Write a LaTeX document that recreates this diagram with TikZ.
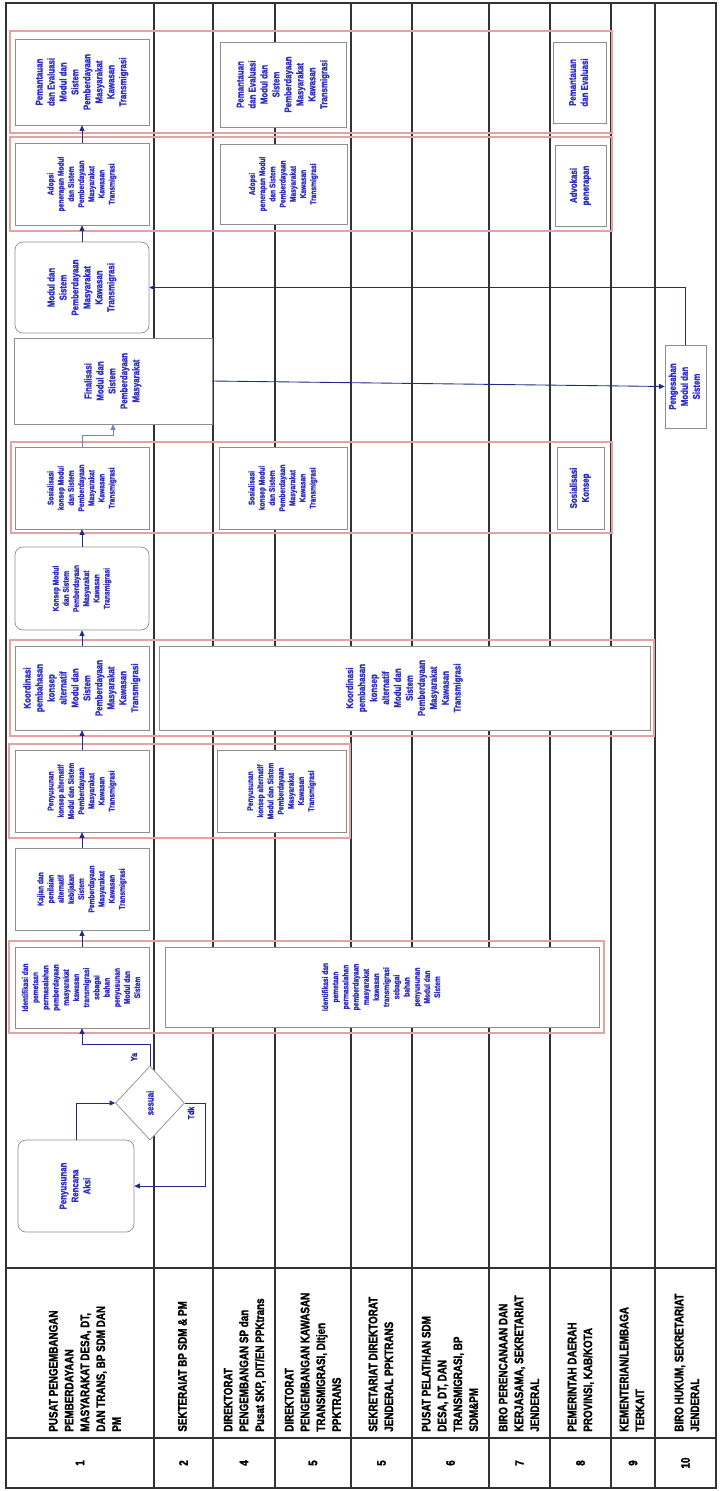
\documentclass[tikz,border=0pt]{standalone}
\usepackage{fontspec}
\setmainfont{Liberation Sans}[FakeStretch=0.8,BoldFont={Liberation Sans Bold},BoldFeatures={FakeBold=1.5}]
\usepackage{tikz}
\usetikzlibrary{arrows.meta,shapes.geometric}
\definecolor{flowblue}{HTML}{1E2A8F}
\definecolor{lightflow}{HTML}{6F86B8}
\definecolor{txtblue}{HTML}{2F2FC4}
\definecolor{pinkframe}{HTML}{E6A2A2}
\definecolor{boxedge}{HTML}{8E8E8E}
\newcommand{\vt}[1]{\rotatebox{90}{\begin{tabular}{@{}c@{}}#1\end{tabular}}}
\newcommand{\vl}[1]{\rotatebox{90}{\begin{tabular}{@{}l@{}}#1\end{tabular}}}

\begin{document}
\begin{tikzpicture}[x=0.2mm,y=-0.2mm,>={Triangle[length=1.1mm,width=1mm]},
 box/.style={draw=boxedge,fill=white,inner sep=0pt,text=txtblue,font=\bfseries\fontsize{5.6}{6.8}\selectfont},
 sm/.style={font=\bfseries\fontsize{4.7}{5.8}\selectfont},
 sz/.style 2 args={minimum width=#1*0.2mm,minimum height=#2*0.2mm},
 rbox/.style={box,rounded corners=1.6mm},
 grp/.style={draw=pinkframe,line width=0.6pt},
 lane/.style={draw=black!80,line width=0.8pt},
 flow/.style={draw=flowblue,line width=0.5pt,->},
 hd/.style={inner sep=0pt,font=\bfseries\fontsize{7}{9}\selectfont},
 lbl/.style={inner sep=0pt,text=flowblue,font=\bfseries\fontsize{5}{6}\selectfont}]
 \useasboundingbox (0,0) rectangle (722,1491);
 \fill[white] (0,0) rectangle (722,1491);
 % lanes
 \foreach \x in {154,213,275,351,412,489,550,611,655}
  \draw[lane] (\x,3) -- (\x,1488);
 \draw[lane] (6,3) rectangle (716,1488);
 \draw[lane] (6,1268) -- (716,1268);
 \draw[lane] (6,1438) -- (716,1438);
 % lane headers
 \node[hd,anchor=south] (hd1) at (86,1432) {\vl{PUSAT PENGEMBANGAN\\PEMBERDAYAAN\\MASYARAKAT DESA, DT,\\DAN TRANS, BP SDM DAN\\PM}};
 \node[hd,anchor=south] (hd2) at (183.5,1432) {\vl{SEKTERAIAT BP SDM \& PM}};
 \node[hd,anchor=south] (hd3) at (245,1432) {\vl{DIREKTORAT\\PENGEMBANGAN SP dan\\Pusat SKP, DIT/EN PPKtrans}};
 \node[hd,anchor=south] (hd4) at (314,1432) {\vl{DIREKTORAT\\PENGEMBANGAN KAWASAN\\TRANSMIGRASI, DItjen\\PPKTRANS}};
 \node[hd,anchor=south] (hd5) at (382,1432) {\vl{SEKRETARIAT DIREKTORAT\\JENDERAL PPKTRANS}};
 \node[hd,anchor=south] (hd6) at (451,1432) {\vl{PUSAT PELATIHAN SDM\\DESA, DT, DAN\\TRANSMIGRASI, BP\\SDM\&PM}};
 \node[hd,anchor=south] (hd7) at (520,1432) {\vl{BIRO PERENCANAAN DAN\\KERJASAMA, SEKRETARIAT\\JENDERAL}};
 \node[hd,anchor=south] (hd8) at (581,1432) {\vl{PEMERINTAH DAERAH\\PROVINSI, KAB/KOTA}};
 \node[hd,anchor=south] (hd9) at (633,1432) {\vl{KEMENTERIAN/LEMBAGA\\TERKAIT}};
 \node[hd,anchor=south] (hd10) at (688,1432) {\vl{BIRO HUKUM, SEKRETARIAT\\JENDERAL}};
 \node[hd] (no1) at (80,1463) {\rotatebox{90}{1}};
 \node[hd] (no2) at (183.5,1463) {\rotatebox{90}{2}};
 \node[hd] (no3) at (244,1463) {\rotatebox{90}{4}};
 \node[hd] (no4) at (313,1463) {\rotatebox{90}{5}};
 \node[hd] (no5) at (381.5,1463) {\rotatebox{90}{5}};
 \node[hd] (no6) at (450.5,1463) {\rotatebox{90}{6}};
 \node[hd] (no7) at (519.5,1463) {\rotatebox{90}{7}};
 \node[hd] (no8) at (580.5,1463) {\rotatebox{90}{8}};
 \node[hd] (no9) at (633,1463) {\rotatebox{90}{9}};
 \node[hd] (no10) at (685.5,1463) {\rotatebox{90}{10}};
 % groups
 \draw[grp] (10,31) rectangle (612,133);
 \draw[grp] (10,137) rectangle (612,231);
 \draw[grp] (11,442) rectangle (612,533);
 \draw[grp] (10,640) rectangle (654,736);
 \draw[grp] (9,744) rectangle (350,838);
 \draw[grp] (9,941) rectangle (604,1033);
 % steps
 \node[box,sz={134}{86}] (pemantauan) at (82,82) {\vt{Pemantauan\\dan Evaluasi\\Modul dan\\Sistem\\Pemberdayaan\\Masyarakat\\Kawasan\\Transmigrasi}};
 \node[box,sz={126}{85}] (pemantauanB) at (283,84.5) {\vt{Pemantauan\\dan Evaluasi\\Modul dan\\Sistem\\Pemberdayaan\\Masyarakat\\Kawasan\\Transmigrasi}};
 \node[box,sz={53}{81}] (pemantauanC) at (579.5,82.5) {\vt{Pemantauan\\dan Evaluasi}};
 \node[box,sm,sz={134}{82}] (adopsi) at (82,184) {\vt{Adopsi\\penerapan Modul\\dan Sistem\\Pemberdayaan\\Masyarakat\\Kawasan\\Transmigrasi}};
 \node[box,sm,sz={127}{80}] (adopsiB) at (283.5,184) {\vt{Adopsi\\penerapan Modul\\dan Sistem\\Pemberdayaan\\Masyarakat\\Kawasan\\Transmigrasi}};
 \node[box,sz={51}{81}] (advokasi) at (580.5,185.5) {\vt{Advokasi\\penerapan}};
 \node[rbox,sz={134}{91}] (modul) at (82,287.5) {\vt{Modul dan\\Sistem\\Pemberdayaan\\Masyarakat\\Kawasan\\Transmigrasi}};
 \node[box,sz={198}{86}] (finalisasi) at (113,381) {\vt{Finalisasi\\Modul dan\\Sistem\\Pemberdayaan\\Masyarakat}};
 \node[box,sz={41}{83}] (pengesahan) at (685.5,386.5) {\vt{Pengesahan\\Modul dan\\Sistem}};
 \node[box,sm,sz={134}{82}] (sosialisasi) at (82,488) {\vt{Sosialisasi\\konsep Modul\\dan Sistem\\Pemberdayaan\\Masyarakat\\Kawasan\\Transmigrasi}};
 \node[box,sm,sz={128}{82}] (sosialisasiB) at (283,488) {\vt{Sosialisasi\\konsep Modul\\dan Sistem\\Pemberdayaan\\Masyarakat\\Kawasan\\Transmigrasi}};
 \node[box,sz={47}{82}] (sosialisasiC) at (580.5,488) {\vt{Sosialisasi\\Konsep}};
 \node[rbox,sm,sz={134}{83}] (konsep) at (82,588.5) {\vt{Konsep Modul\\dan Sistem\\Pemberdayaan\\Masyarakat\\Kawasan\\Transmigrasi}};
 \node[box,sz={134}{84}] (koordinasi) at (82,688) {\vt{Koordinasi\\pembahasan\\konsep\\alternatif\\Modul dan\\Sistem\\Pemberdayaan\\Masyarakat\\Kawasan\\Transmigrasi}};
 \node[box,sz={491}{84}] (koordinasiB) at (404.5,688) {\vt{Koordinasi\\pembahasan\\konsep\\alternatif\\Modul dan\\Sistem\\Pemberdayaan\\Masyarakat\\Kawasan\\Transmigrasi}};
 \node[box,sm,sz={134}{82}] (penyusunan) at (82,791) {\vt{Penyusunan\\konsep alternatif\\Modul dan Sistem\\Pemberdayaan\\Masyarakat\\Kawasan\\Transmigrasi}};
 \node[box,sm,sz={129}{82}] (penyusunanB) at (281.5,791) {\vt{Penyusunan\\konsep alternatif\\Modul dan Sistem\\Pemberdayaan\\Masyarakat\\Kawasan\\Transmigrasi}};
 \node[box,sm,sz={134}{82}] (kajian) at (82,889) {\vt{Kajian dan\\penilaian\\alternatif\\kebijakan\\Sistem\\Pemberdayaan\\Masyarakat\\Kawasan\\Transmigrasi}};
 \node[box,sm,sz={134}{81}] (identifikasi) at (82,987.5) {\vt{Identifikasi dan\\pemetaan\\permasalahan\\pemberdayaan\\masyarakat\\kawasan\\transmigrasi\\sebagai\\bahan\\penyusunan\\Modul dan\\Sistem}};
 \node[box,sm,sz={434}{80}] (identifikasiB) at (382,987) {\vt{Identifikasi dan\\pemetaan\\permasalahan\\pemberdayaan\\masyarakat\\kawasan\\transmigrasi\\sebagai\\bahan\\penyusunan\\Modul dan\\Sistem}};
 \node[box,diamond,sz={69}{74}] (sesuai) at (150,1103) {\rotatebox{90}{sesuai}};
 \node[rbox,sz={116}{92}] (rencana) at (76,1186) {\vt{Penyusunan\\Rencana\\Aksi}};
 \node[lbl] (ya) at (134,1057) {\rotatebox{90}{Ya}};
 \node[lbl] (tdk) at (191,1113) {\rotatebox{90}{Tdk}};
 % flow
 \draw[flow] (rencana.north) |- (sesuai.west);
 \draw[flow] (sesuai.north) -- ++(0,-21) -| (identifikasi.south);
 \draw[flow] (sesuai.east) -- ++(21,0) |- (rencana.east);
 \draw[flow] (identifikasi) -- (kajian);
 \draw[flow] (kajian) -- (penyusunan);
 \draw[flow] (penyusunan) -- (koordinasi);
 \draw[flow] (koordinasi) -- (konsep);
 \draw[flow] (konsep) -- (sosialisasi);
 \draw[flow,draw=lightflow] (sosialisasi.north) -- ++(0,-11) -| (finalisasi.south);
 \draw[flow] (finalisasi.east) -- (pengesahan.west);
 \draw[flow] (pengesahan.north) |- (modul.east);
 \draw[flow] (modul) -- (adopsi);
 \draw[flow] (adopsi) -- (pemantauan);
\end{tikzpicture}
\end{document}
